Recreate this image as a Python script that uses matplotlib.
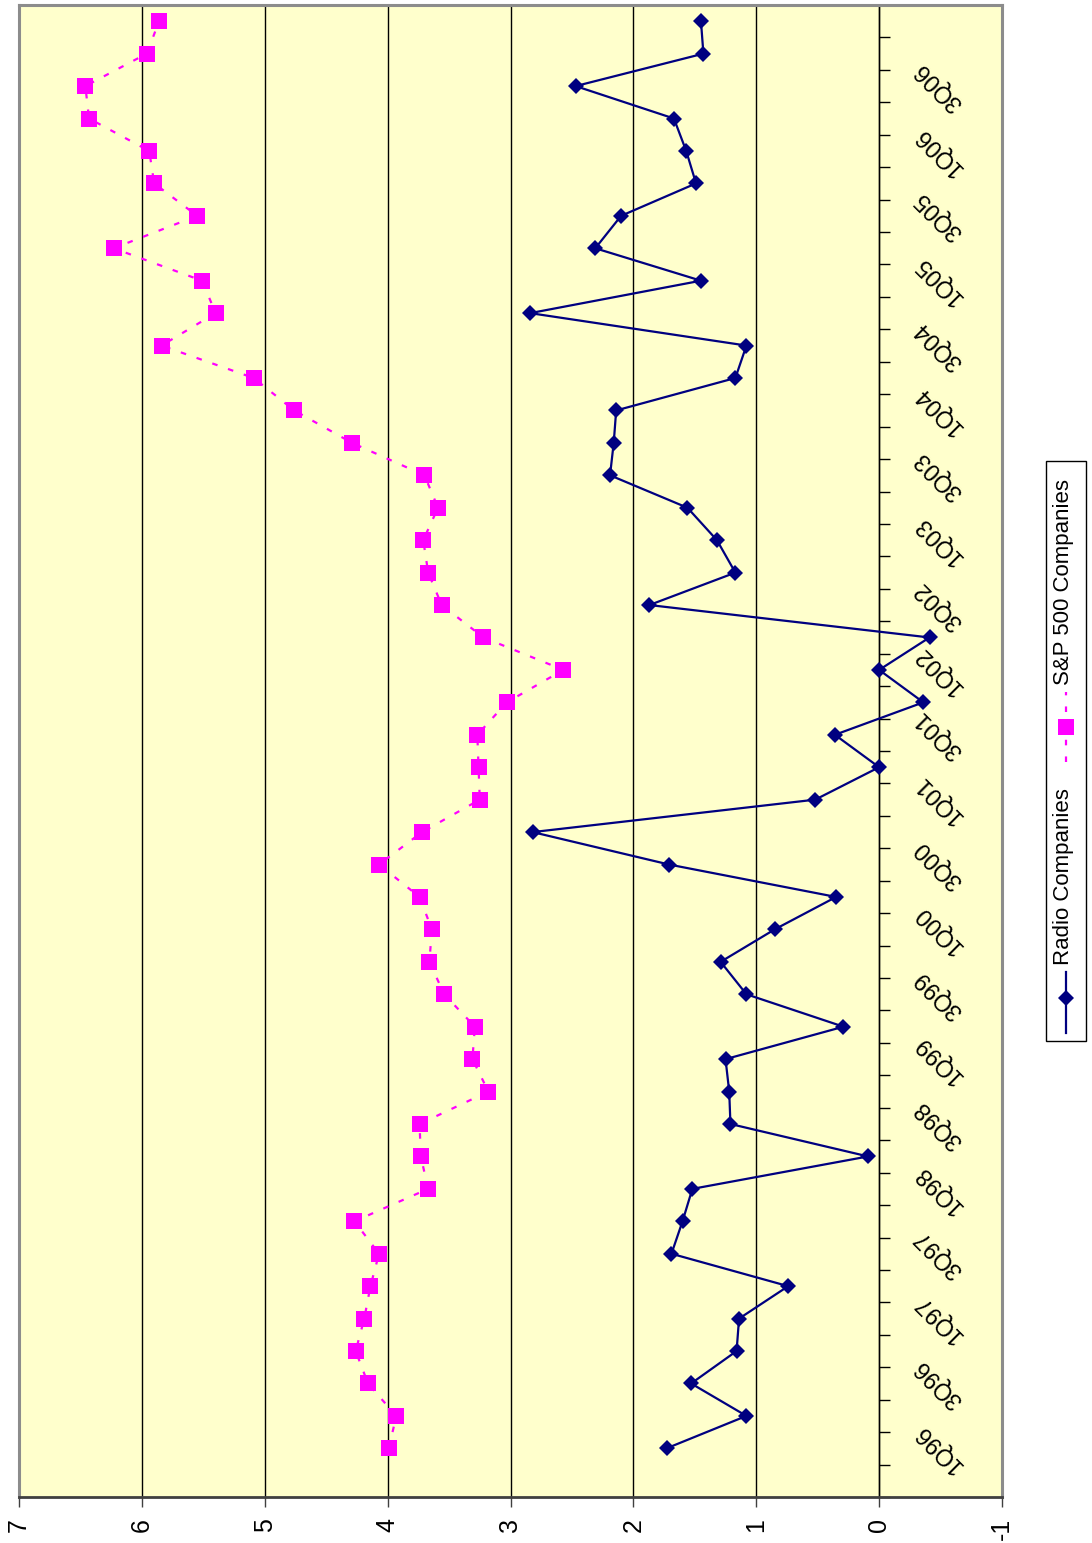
import matplotlib
matplotlib.use("Agg")
import matplotlib.pyplot as plt
from matplotlib.lines import Line2D
from matplotlib.patches import Rectangle
from matplotlib.ticker import FixedLocator, NullFormatter

plt.rcParams["font.family"] = ["Liberation Sans", "DejaVu Sans"]
plt.rcParams["axes.unicode_minus"] = False

# Quarterly series, 1Q96 through 1Q07
quarters = [f"{q}Q{y % 100:02d}" for y in range(1996, 2008) for q in range(1, 5)][:45]

radio = [1.73, 1.08, 1.53, 1.16, 1.14, 0.74, 1.69, 1.60, 1.52, 0.09,
         1.21, 1.22, 1.25, 0.29, 1.08, 1.29, 0.85, 0.35, 1.71, 2.82,
         0.52, 0.00, 0.36, -0.36, 0.00, -0.41, 1.87, 1.17, 1.32, 1.56,
         2.19, 2.16, 2.14, 1.17, 1.08, 2.84, 1.45, 2.31, 2.10, 1.49,
         1.57, 1.67, 2.47, 1.43, 1.45]

sp500 = [3.99, 3.93, 4.16, 4.26, 4.19, 4.14, 4.07, 4.27, 3.67, 3.73,
         3.74, 3.18, 3.31, 3.29, 3.54, 3.66, 3.64, 3.74, 4.07, 3.72,
         3.25, 3.26, 3.27, 3.03, 2.57, 3.22, 3.56, 3.67, 3.71, 3.59,
         3.70, 4.29, 4.76, 5.09, 5.84, 5.40, 5.51, 6.23, 5.55, 5.90,
         5.94, 6.43, 6.46, 5.96, 5.86]

value_ticks = [7, 6, 5, 4, 3, 2, 1, 0, -1]
series_names = ["Radio Companies", "S&P 500 Companies"]

W, H = 1092, 1543
fig = plt.figure(figsize=(W / 100, H / 100), dpi=100)
fig.patch.set_facecolor("white")


def fx(px):
    return px / W


def fy(py):
    return 1 - py / H


# Plot area (value axis runs horizontally, quarters run bottom to top)
ax = fig.add_axes([fx(19), fy(1497), fx(1002) - fx(19), fy(5) - fy(1497)])
ax.set_facecolor("#FFFFCC")
ax.set_xlim(7, -1)
pos = list(range(1, len(quarters) + 1))
ax.set_ylim(-0.5, len(quarters) + 0.5)

# Gridlines at each value
ax.set_axisbelow(True)
ax.set_xticks(value_ticks)
ax.set_xticklabels([str(v) for v in value_ticks], rotation=90, fontsize=18)
ax.xaxis.grid(True, color="black", linewidth=1)
ax.tick_params(axis="x", direction="out", length=7, width=1, color="#404040", pad=8)

# Border of the plot area
for side in ("left", "top"):
    ax.spines[side].set_color("#8C8C8C")
    ax.spines[side].set_linewidth(2.2)
ax.spines["bottom"].set_color("#404040")
ax.spines["bottom"].set_linewidth(2)
ax.plot([1, 1], [0, 1], transform=ax.transAxes, color="#8C8C8C", lw=2.2,
        clip_on=False, zorder=2.5)

# Category axis crossing at zero
ax.spines["right"].set_position(("data", 0))
ax.spines["right"].set_color("black")
ax.spines["right"].set_linewidth(1)
ax.yaxis.set_ticks_position("right")
boundaries = [k - 0.5 for k in range(0, len(quarters) + 2)]
ax.yaxis.set_major_locator(FixedLocator(boundaries))
ax.yaxis.set_major_formatter(NullFormatter())
ax.tick_params(axis="y", which="major", direction="out", length=8, width=1, color="black")

label_pos = pos[0:43:2]
ax.yaxis.set_minor_locator(FixedLocator(label_pos))
labels = ax.set_yticklabels([quarters[p - 1] for p in label_pos], minor=True,
                            rotation=135, fontsize=17)
for t in labels:
    t.set_horizontalalignment("center")
    t.set_verticalalignment("center")
ax.tick_params(axis="y", which="minor", length=0, pad=43)

# Series
ax.plot(radio, pos, color="#000080", lw=1.6, marker="D", ms=8.5,
        markeredgewidth=0, zorder=4, clip_on=False)
ax.plot(sp500, pos, color="#FF00FF", lw=1.6, ls=(0, (2.5, 5)), marker="s",
        ms=11, markeredgewidth=0, zorder=4, clip_on=False)

# Legend box, drawn upright along the right side
fig.add_artist(Rectangle((fx(1046), fy(1041)), fx(1086) - fx(1046), fy(461) - fy(1041),
                         transform=fig.transFigure, facecolor="white",
                         edgecolor="black", linewidth=1))
hx = fx(1066)
fig.add_artist(Line2D([hx, hx], [fy(1033), fy(972)], transform=fig.transFigure,
                      color="#000080", lw=1.6))
fig.add_artist(Line2D([hx], [fy(998)], transform=fig.transFigure, color="#000080",
                      marker="D", ms=8.5, markeredgewidth=0, linestyle="none"))
fig.text(fx(1063), fy(965), series_names[0], rotation=90, rotation_mode="anchor",
         ha="left", va="center", fontsize=16)
fig.add_artist(Line2D([hx, hx], [fy(762), fy(692)], transform=fig.transFigure,
                      color="#FF00FF", lw=1.6, ls=(0, (2.5, 5))))
fig.add_artist(Line2D([hx], [fy(727)], transform=fig.transFigure, color="#FF00FF",
                      marker="s", ms=11, markeredgewidth=0, linestyle="none"))
fig.text(fx(1063), fy(685), series_names[1], rotation=90, rotation_mode="anchor",
         ha="left", va="center", fontsize=16)

fig.savefig("out.png", dpi=100, facecolor="white")
